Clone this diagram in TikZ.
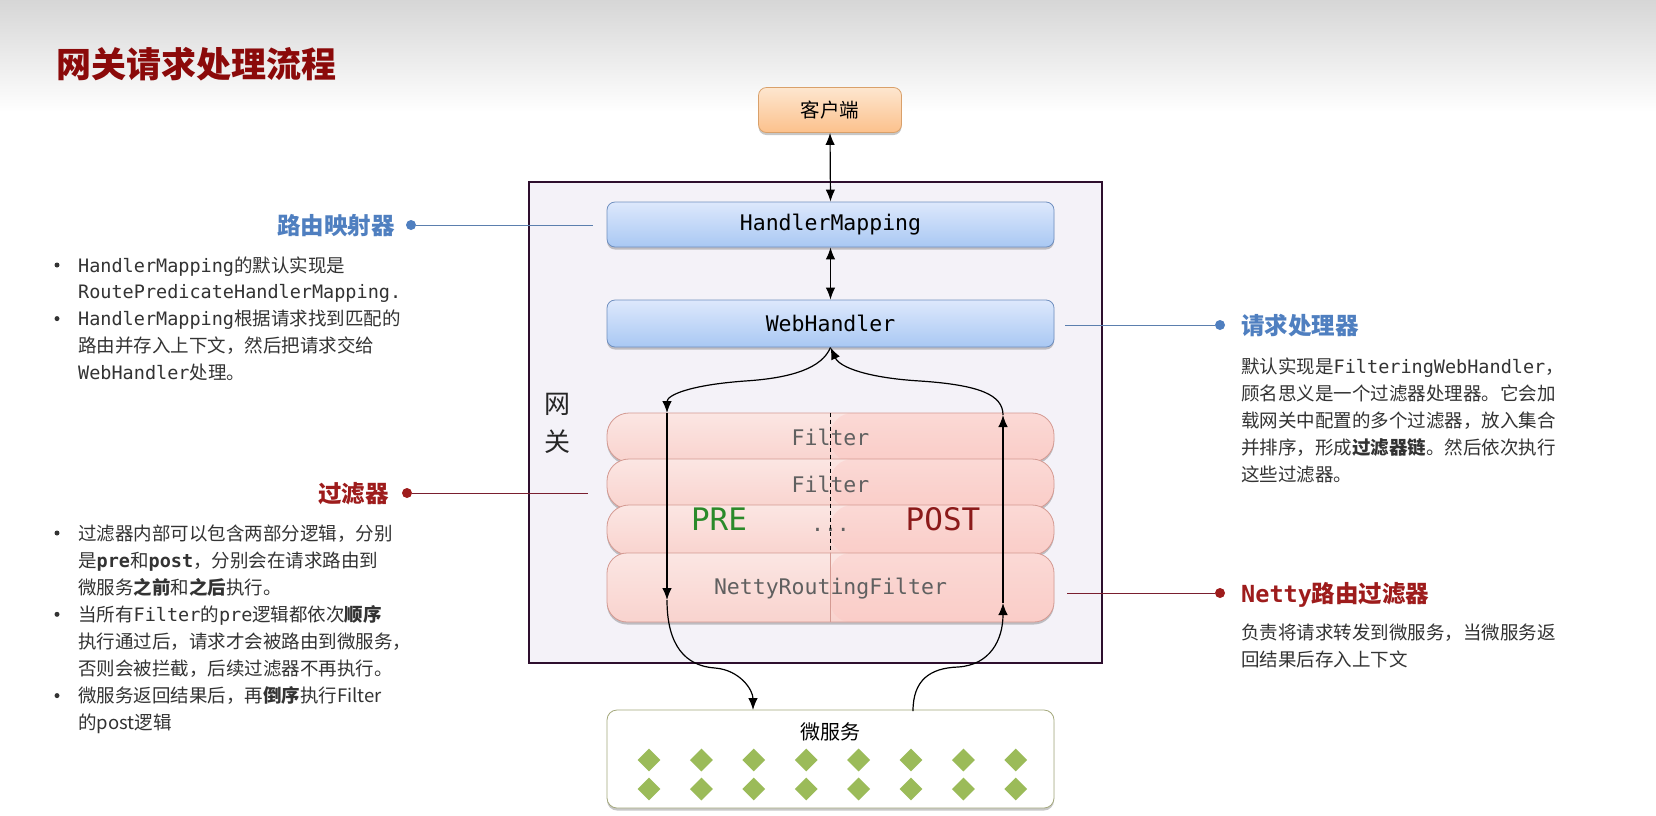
\documentclass[tikz,border=0pt]{standalone}
\usepackage{fontspec}
\setmainfont{Noto Sans CJK SC}
\setmonofont{DejaVu Sans Mono}
\usetikzlibrary{arrows.meta,shadows,shapes.geometric}
\definecolor{titlered}{HTML}{8B0A0A}
\definecolor{hblue}{HTML}{4F7FC0}
\definecolor{lblue}{HTML}{5B7FAE}
\definecolor{hred}{HTML}{9E1C1C}
\definecolor{lred}{HTML}{7A1F2F}
\definecolor{txtgray}{HTML}{333333}
\definecolor{gwfill}{HTML}{F4F2F8}
\definecolor{gwdraw}{HTML}{2E0F2E}
\definecolor{blueT}{HTML}{DDE8FC}
\definecolor{blueB}{HTML}{A9C8F3}
\definecolor{blueD}{HTML}{6F8FBF}
\definecolor{orT}{HTML}{FDE6CF}
\definecolor{orB}{HTML}{FCC18C}
\definecolor{orD}{HTML}{D9A06A}
\definecolor{pinkT}{HTML}{FBE6E3}
\definecolor{pinkB}{HTML}{F9D3CE}
\definecolor{pinkR}{HTML}{FCC2BD}
\definecolor{pinkD}{HTML}{D49A92}
\definecolor{filtxt}{HTML}{606060}
\definecolor{preg}{HTML}{2A8A2A}
\definecolor{postr}{HTML}{8B1A1A}
\definecolor{msD}{HTML}{A4A87C}
\definecolor{diag}{HTML}{9BBB59}
\begin{document}
\begin{tikzpicture}[x=1pt,y=-1pt,
  shad/.style={drop shadow={shadow xshift=0pt, shadow yshift=-2.5pt, opacity=0.22, fill=black}},
  bluebox/.style={draw=blueD, line width=0.8pt, rounded corners=8pt, top color=blueT, bottom color=blueB,
     minimum width=447pt, inner sep=0, font=\fontsize{21.5}{26}\selectfont\ttfamily, text=black, shad},
  pill/.style={draw=pinkD, line width=0.8pt, rounded corners=22pt, minimum width=447pt, inner sep=0,
     top color=pinkT, bottom color=pinkB, font=\fontsize{21.5}{26}\selectfont\ttfamily, text=filtxt, shad,
     path picture={\fill[pinkR, opacity=0.35] (path picture bounding box.north) rectangle (path picture bounding box.south east);}},
  conn/.style={line width=1.2pt, draw=black},
  tip/.style={-{Latex[length=12pt,width=9.5pt]}},
  tips/.style={{Latex[length=12pt,width=9.5pt]}-{Latex[length=12pt,width=9.5pt]}},
  txt/.style={anchor=base west, inner sep=0, font=\fontsize{18.5}{22}\selectfont, text=txtgray},
  hdr/.style={inner sep=0, font=\fontsize{23.5}{28}\selectfont\bfseries},
  bul/.style={circle, fill=txtgray, minimum size=5pt, inner sep=0},
  dotc/.style={circle, minimum size=10pt, inner sep=0},
  dia/.style={diamond, fill=diag, minimum width=23pt, minimum height=23pt, inner sep=0}
]
\useasboundingbox (0,0) rectangle (1656,815);
\fill[white] (0,0) rectangle (1656,815);
\shade[top color=black!16, bottom color=white] (0,0) rectangle (1656,112);

% title
\node[anchor=west, inner sep=0, font=\fontsize{35}{40}\selectfont\bfseries, text=titlered] (title) at (56,64) {网关请求处理流程};

% client
\node[draw=orD, line width=0.8pt, rounded corners=8pt, top color=orT, bottom color=orB, minimum width=143pt,
  minimum height=45pt, inner sep=0, font=\fontsize{19.5}{24}\selectfont, shad] (client) at (830,110) {客户端};

% gateway
\node[draw=gwdraw, fill=gwfill, line width=1.2pt, minimum width=573pt, minimum height=481pt, inner sep=0] (gw) at (815.5,422.5) {};
\node[inner sep=0, align=center, font=\fontsize{26}{38}\selectfont, text=black!85] (gwl) at (557,423) {网\\关};

\node[bluebox, minimum height=45pt] (hm) at (830.5,224.5) {HandlerMapping};
\node[bluebox, minimum height=47pt] (wh) at (830.5,323.5) {WebHandler};

% filters
\node[pill, minimum height=49pt] (f1) at (830.5,437.5) {Filter};
\node[pill, minimum height=50pt] (f2) at (830.5,484) {Filter};
\node[pill, minimum height=50pt] (f3) at (830.5,530) {...};
\node[pill, minimum height=69pt, rounded corners=20pt, text depth=2pt] (f4) at (830.5,587.5) {NettyRoutingFilter};
\draw[black, line width=0.8pt, dash pattern=on 4pt off 3pt] (f1.north) -- (f4.north);
\draw[pinkD, line width=0.8pt] (f4.north) -- (f4.south);
\node[inner sep=0, font=\fontsize{31}{36}\selectfont\ttfamily, text=preg] (pre) at (719,519) {PRE};
\node[inner sep=0, font=\fontsize{31}{36}\selectfont\ttfamily, text=postr] (post) at (943,519) {POST};

% microservices
\node[draw=msD, line width=0.8pt, rounded corners=10pt, fill=white,
  minimum width=447pt, minimum height=98pt, inner sep=0, shad] (ms) at (830.5,759) {};
\node[inner sep=0, font=\fontsize{20}{24}\selectfont] (mst) at (830,732) {微服务};
\foreach \i in {0,...,7} {
  \foreach \j in {0,1} {
    \node[dia] (d\i\j) at ({649+52.4*\i},{760+29*\j}) {};
  }
}

% connectors
\coordinate (ltop) at (667,413);
\coordinate (lbot) at (667,600);
\coordinate (rtop) at (1003,415);
\coordinate (rbot) at (1003,603);
\coordinate (msin) at (753,710);
\coordinate (msout) at (913,711);
\draw[conn, tips] (client.south) -- (hm.north);
\draw[conn, tips] (hm.south) -- (wh.north);
\draw[conn, tip] (wh.south) .. controls (822,368) and (792,378) .. (745,381) .. controls (690,385) and (667,395) .. (ltop);
\draw[conn, tip] (ltop) -- (lbot);
\draw[conn, tip] (lbot) .. controls (667,645) and (685,666) .. (715,668) .. controls (740,670) and (753,690) .. (msin);
\draw[conn, tip] (msout) .. controls (913,680) and (930,668) .. (958,667) .. controls (990,665) and (1003,640) .. (rbot);
\draw[conn, tip] (rbot) -- (rtop);
\draw[conn, tip] (rtop) .. controls (1003,395) and (980,385) .. (920,381) .. controls (870,378) and (840,368) .. (wh.south);

% leader lines and headers
\node[dotc, fill=hblue] (dhm) at (411,225) {};
\coordinate (ehm) at (593,225);
\draw[lblue, line width=0.9pt] (dhm) -- (ehm);
\node[hdr, text=hblue, anchor=base east] (hhm) at (395,234) {路由映射器};

\node[dotc, fill=hblue] (dwh) at (1220,325) {};
\coordinate (ewh) at (1065,325);
\draw[lblue, line width=0.9pt] (ewh) -- (dwh);
\node[hdr, text=hblue, anchor=base west] (hwh) at (1241,334) {请求处理器};

\node[dotc, fill=hred] (dfl) at (407,493) {};
\coordinate (efl) at (588,493);
\draw[lred, line width=0.9pt] (dfl) -- (efl);
\node[hdr, text=hred, anchor=base east] (hfl) at (389,502) {过滤器};

\node[dotc, fill=hred] (dnf) at (1220,593) {};
\coordinate (enf) at (1067,593);
\draw[lred, line width=0.9pt] (enf) -- (dnf);
\node[hdr, text=hred, anchor=base west] (hnf) at (1241,602) {\ttfamily\bfseries Netty\rmfamily 路由过滤器};

% left list 1
\node[txt] (a1) at (78,272) {\texttt{HandlerMapping}的默认实现是};
\node[txt] (a2) at (78,298.8) {\texttt{RoutePredicateHandlerMapping.}};
\node[txt] (a3) at (78,325.6) {\texttt{HandlerMapping}根据请求找到匹配的};
\node[txt] (a4) at (78,352.4) {路由并存入上下文，然后把请求交给};
\node[txt] (a5) at (78,379.2) {\texttt{WebHandler}处理。};
\node[bul] (ba1) at (57,265) {};
\node[bul] (ba3) at (57,318.6) {};

% left list 2
\node[txt] (b1) at (78,540) {过滤器内部可以包含两部分逻辑，分别};
\node[txt] (b2) at (78,567.1) {是\textbf{\texttt{pre}}和\textbf{\texttt{post}}，分别会在请求路由到};
\node[txt] (b3) at (78,594.2) {微服务\textbf{之前}和\textbf{之后}执行。};
\node[txt] (b4) at (78,621.3) {当所有\texttt{Filter}的\texttt{pre}逻辑都依次\textbf{顺序}};
\node[txt] (b5) at (78,648.4) {执行通过后，请求才会被路由到微服务，};
\node[txt] (b6) at (78,675.5) {否则会被拦截，后续过滤器不再执行。};
\node[txt] (b7) at (78,702.6) {微服务返回结果后，再\textbf{倒序}执行Filter};
\node[txt] (b8) at (78,729.7) {的post逻辑};
\node[bul] (bb1) at (57,533) {};
\node[bul] (bb4) at (57,614.3) {};
\node[bul] (bb7) at (57,695.6) {};

% right text
\node[txt] (c1) at (1241,373) {默认实现是\texttt{FilteringWebHandler}，};
\node[txt] (c2) at (1241,400) {顾名思义是一个过滤器处理器。它会加};
\node[txt] (c3) at (1241,427) {载网关中配置的多个过滤器，放入集合};
\node[txt] (c4) at (1241,454) {并排序，形成\textbf{过滤器链}。然后依次执行};
\node[txt] (c5) at (1241,481) {这些过滤器。};

\node[txt] (n1) at (1241,639) {负责将请求转发到微服务，当微服务返};
\node[txt] (n2) at (1241,666) {回结果后存入上下文};
\end{tikzpicture}
\end{document}
